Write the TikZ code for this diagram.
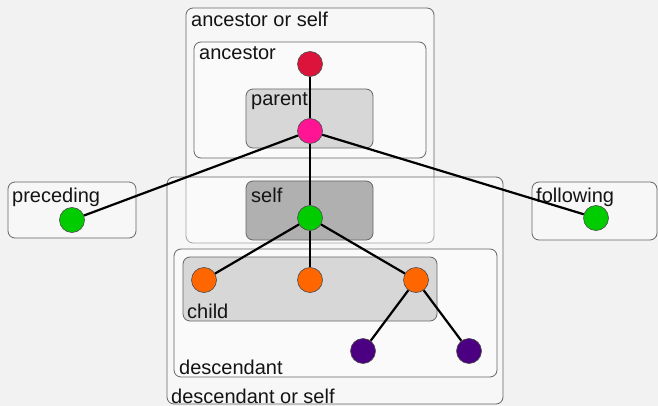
\documentclass[tikz,border=0pt]{standalone}
\usepackage{fontspec}
\setmainfont{Liberation Sans}
\begin{document}
\begin{tikzpicture}[x=1pt,y=-1pt,
  box/.style={draw=black!60, rounded corners=7pt, line width=0.8pt, fill=white, fill opacity=0.4},
  grey1/.style={box, fill=black!17, fill opacity=0.9},
  grey2/.style={box, fill=black!34, fill opacity=0.9},
  lbl/.style={anchor=base west, inner sep=0pt, font=\fontsize{20}{20}\selectfont, text=black!92},
  dot/.style={circle, draw=black!70, line width=0.6pt, minimum size=25pt, inner sep=0pt},
  link/.style={line width=2.2pt, black}]
\fill[black!5] (0,0) rectangle (658,406);
\useasboundingbox (0,0) rectangle (658,406);
% boxes
\draw[box] (186,8) rectangle (434,243);
\draw[box] (167,177) rectangle (503,404);
\draw[box] (194,42) rectangle (426,158);
\draw[grey1] (246,89) rectangle (373,148);
\draw[grey2] (246,181) rectangle (373,240);
\draw[box] (174,249) rectangle (497,377);
\draw[grey1] (183,257) rectangle (437,321);
\draw[box] (8,182) rectangle (136,238);
\draw[box] (532,182) rectangle (657,240);
% labels
\node[lbl] (lAos) at (191,27) {ancestor or self};
\node[lbl] (lAnc) at (199,60) {ancestor};
\node[lbl] (lPar) at (251,106) {parent};
\node[lbl] (lSelf) at (251,202) {self};
\node[lbl] (lChild) at (187,318) {child};
\node[lbl] (lDesc) at (179,374) {descendant};
\node[lbl] (lDos) at (171,403) {descendant or self};
\node[lbl] (lPrec) at (12,202) {preceding};
\node[lbl] (lFoll) at (536,203) {following};
% nodes
\node[dot, fill={rgb,255:red,220;green,20;blue,60}] (anc) at (310,64) {};
\node[dot, fill={rgb,255:red,255;green,20;blue,147}] (par) at (310,131) {};
\node[dot, fill={rgb,255:red,0;green,204;blue,0}] (self) at (310,218) {};
\node[dot, fill={rgb,255:red,0;green,204;blue,0}] (prec) at (72,220) {};
\node[dot, fill={rgb,255:red,0;green,204;blue,0}] (foll) at (596,218) {};
\node[dot, fill={rgb,255:red,255;green,102;blue,0}] (c1) at (204,280) {};
\node[dot, fill={rgb,255:red,255;green,102;blue,0}] (c2) at (310,280) {};
\node[dot, fill={rgb,255:red,255;green,102;blue,0}] (c3) at (416,280) {};
\node[dot, fill={rgb,255:red,75;green,0;blue,130}] (d1) at (363,351) {};
\node[dot, fill={rgb,255:red,75;green,0;blue,130}] (d2) at (469,351) {};
% links
\draw[link] (par) -- (anc);
\draw[link] (par) -- (self);
\draw[link] (par) -- (prec);
\draw[link] (par) -- (foll);
\draw[link] (self) -- (c1);
\draw[link] (self) -- (c2);
\draw[link] (self) -- (c3);
\draw[link] (c3) -- (d1);
\draw[link] (c3) -- (d2);
\end{tikzpicture}
\end{document}
